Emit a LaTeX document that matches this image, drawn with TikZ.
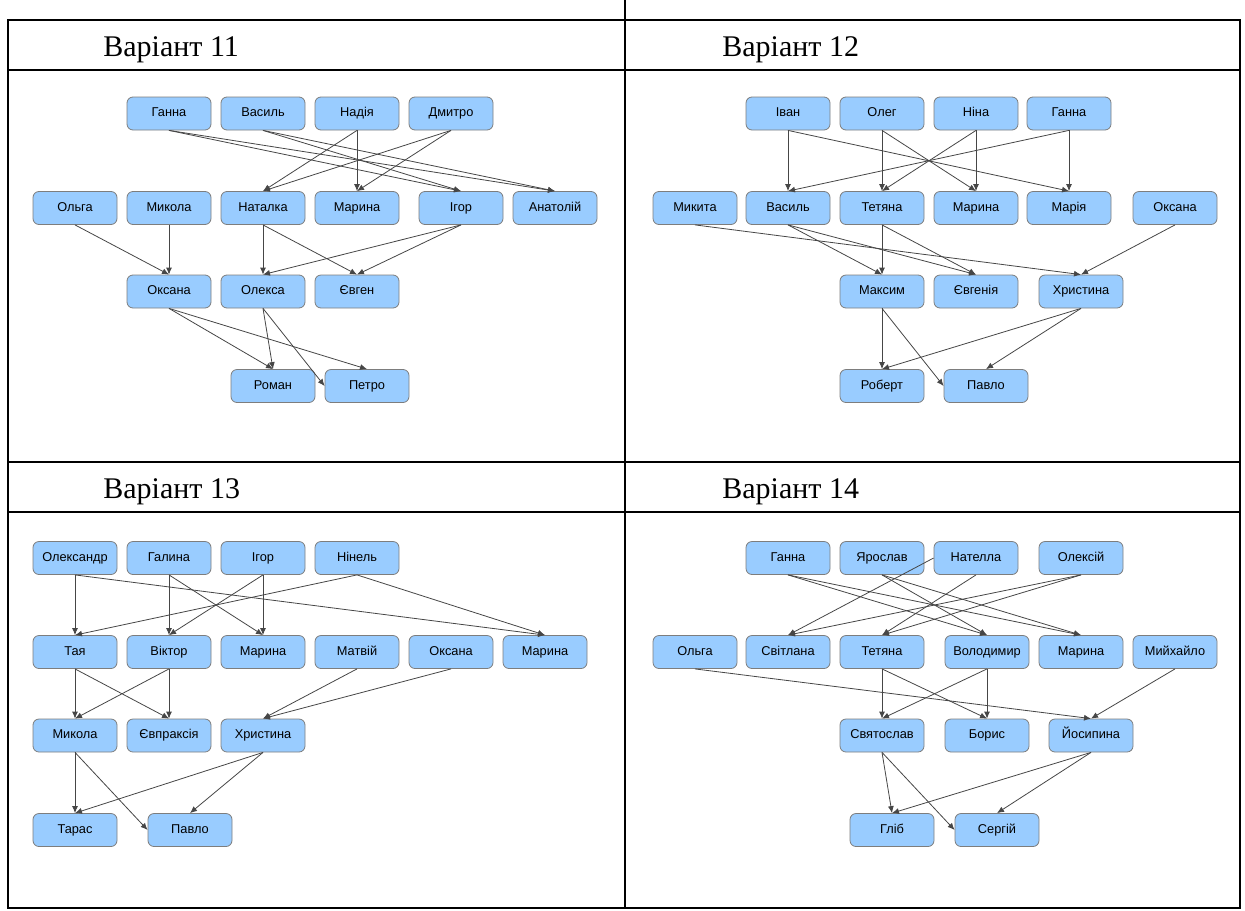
\documentclass[tikz,border=0pt]{standalone}
\usepackage{fontspec}
\setmainfont{Liberation Serif}
\setsansfont{Liberation Sans}
\usetikzlibrary{arrows.meta}
\definecolor{boxfill}{RGB}{153,204,255}
\definecolor{boxline}{RGB}{125,125,125}
\definecolor{edgeline}{RGB}{70,70,70}
\tikzset{
  person/.style={draw=boxline, fill=boxfill, rounded corners=3pt, minimum width=42pt,
    minimum height=16.5pt, inner sep=0pt, text height=4.6pt, text depth=1.3pt,
    font=\sffamily\fontsize{6.4}{7.5}\selectfont},
  rel/.style={draw=edgeline, line width=0.4pt, -{Latex[length=3.5pt,width=3pt]}},
  variant/.style={anchor=base west, inner sep=0pt, font=\fontsize{15}{18}\selectfont},
  tableline/.style={line width=0.6pt}
}
\begin{document}
\begin{tikzpicture}[x=0.5pt,y=-0.5pt]
\useasboundingbox (0,0) rectangle (1245,910);
% tabella
\draw[tableline] (8,20) rectangle (1240,908);
\draw[tableline] (8,70) -- (1240,70) (8,462) -- (1240,462) (8,512) -- (1240,512)
  (625,0) -- (625,908);
\node[variant] (v11) at (103,56) {Варіант 11};
\node[variant] (v12) at (722,56) {Варіант 12};
\node[variant] (v13) at (103,498) {Варіант 13};
\node[variant] (v14) at (722,498) {Варіант 14};

% Варіант 11
\foreach \n/\x/\y/\t in {a-hanna/169/113.5/Ганна, a-vasyl/263/113.5/Василь,
    a-nadia/357/113.5/Надія, a-dmytro/451/113.5/Дмитро,
    a-olga/75/208/Ольга, a-mykola/169/208/Микола, a-natalka/263/208/Наталка,
    a-maryna/357/208/Марина, a-igor/461/208/Ігор, a-anatolii/555/208/Анатолій,
    a-oksana/169/291.5/Оксана, a-oleksa/263/291.5/Олекса, a-yevhen/357/291.5/Євген,
    a-roman/273/386/Роман, a-petro/367/386/Петро}
  \node[person] (\n) at (\x,\y) {\t};
\foreach \a/\b in {hanna/igor, hanna/anatolii, vasyl/igor, vasyl/anatolii,
    nadia/natalka, nadia/maryna, dmytro/natalka, dmytro/maryna,
    olga/oksana, mykola/oksana, natalka/oleksa, natalka/yevhen, igor/oleksa, igor/yevhen,
    oksana/roman, oksana/petro, oleksa/roman}
  \draw[rel] (a-\a.south) -- (a-\b.north);
\draw[rel] (a-oleksa.south) -- (a-petro.west);

% Варіант 12
\foreach \n/\x/\y/\t in {b-ivan/788/113.5/Іван, b-oleh/882/113.5/Олег,
    b-nina/976/113.5/Ніна, b-hanna/1069/113.5/Ганна,
    b-mykyta/695/208/Микита, b-vasyl/788/208/Василь, b-tetiana/882/208/Тетяна,
    b-maryna/976/208/Марина, b-mariia/1069/208/Марія, b-oksana/1175/208/Оксана,
    b-maksym/882/291.5/Максим, b-yevheniia/976/291.5/Євгенія, b-khrystyna/1081/291.5/Христина,
    b-robert/882/386/Роберт, b-pavlo/986/386/Павло}
  \node[person] (\n) at (\x,\y) {\t};
\foreach \a/\b in {ivan/vasyl, ivan/mariia, hanna/vasyl, hanna/mariia,
    oleh/tetiana, oleh/maryna, nina/tetiana, nina/maryna,
    vasyl/maksym, vasyl/yevheniia, tetiana/maksym, tetiana/yevheniia,
    mykyta/khrystyna, oksana/khrystyna, maksym/robert, khrystyna/robert, khrystyna/pavlo}
  \draw[rel] (b-\a.south) -- (b-\b.north);
\draw[rel] (b-maksym.south) -- (b-pavlo.west);

% Варіант 13
\foreach \n/\x/\y/\t in {c-oleksandr/75/558/Олександр, c-halyna/169/558/Галина,
    c-igor/263/558/Ігор, c-ninel/357/558/Нінель,
    c-taia/75/652/Тая, c-viktor/169/652/Віктор, c-maryna/263/652/Марина,
    c-matvii/357/652/Матвій, c-oksana/451/652/Оксана, c-maryna2/545/652/Марина,
    c-mykola/75/735.5/Микола, c-yevpraksiia/169/735.5/Євпраксія, c-khrystyna/263/735.5/Христина,
    c-taras/75/830/Тарас, c-pavlo/190/830/Павло}
  \node[person] (\n) at (\x,\y) {\t};
\foreach \a/\b in {oleksandr/taia, oleksandr/maryna2, ninel/taia, ninel/maryna2,
    halyna/viktor, halyna/maryna, igor/viktor, igor/maryna,
    taia/mykola, taia/yevpraksiia, viktor/mykola, viktor/yevpraksiia,
    matvii/khrystyna, oksana/khrystyna, mykola/taras, khrystyna/taras, khrystyna/pavlo}
  \draw[rel] (c-\a.south) -- (c-\b.north);
\draw[rel] (c-mykola.south) -- (c-pavlo.west);

% Варіант 14
\foreach \n/\x/\y/\t in {d-hanna/788/558/Ганна, d-yaroslav/882/558/Ярослав,
    d-natella/976/558/Нателла, d-oleksii/1081/558/Олексій,
    d-olga/695/652/Ольга, d-svitlana/788/652/Світлана, d-tetiana/882/652/Тетяна,
    d-volodymyr/987/652/Володимир, d-maryna/1081/652/Марина, d-myikhailo/1175/652/Мийхайло,
    d-sviatoslav/882/735.5/Святослав, d-borys/987/735.5/Борис, d-yosypyna/1091/735.5/Йосипина,
    d-hlib/892/830/Гліб, d-serhii/997/830/Сергій}
  \node[person] (\n) at (\x,\y) {\t};
\foreach \a/\b in {hanna/volodymyr, hanna/maryna, yaroslav/volodymyr, yaroslav/maryna,
    natella/tetiana, oleksii/svitlana, oleksii/tetiana,
    tetiana/sviatoslav, tetiana/borys, volodymyr/borys, volodymyr/sviatoslav,
    olga/yosypyna, myikhailo/yosypyna, sviatoslav/hlib, yosypyna/hlib, yosypyna/serhii}
  \draw[rel] (d-\a.south) -- (d-\b.north);
\draw[rel] (d-natella.west) -- (d-svitlana.north);
\draw[rel] (d-sviatoslav.south) -- (d-serhii.west);
\end{tikzpicture}
\end{document}
